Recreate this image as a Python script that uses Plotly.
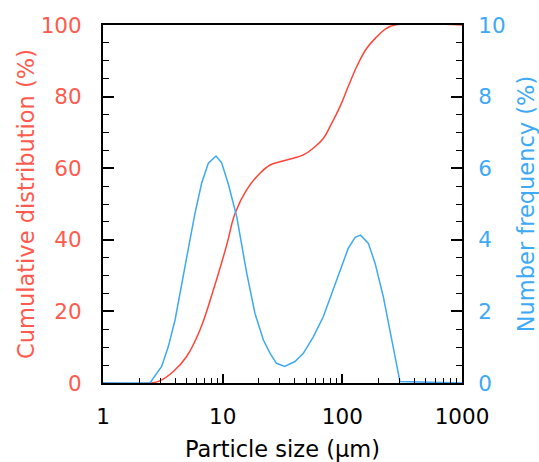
import plotly.graph_objects as go

# particle size (um) for each series
size_cum = [1, 2.47, 2.99, 3.87, 5.0, 6.46, 8.36, 10.8, 12.7, 15.8, 20.5, 24.9, 30.1, 38.9, 47.2, 57.2, 69.3,
            81.4, 95.6, 112, 132, 160, 194, 235, 275, 1000]
cumulative = [0, 0, 0.6, 3.2, 7.4, 14.8, 26, 38.5, 47.4, 53.9, 58.6, 60.9, 61.8, 62.8, 63.7, 65.6, 68.3,
              72.5, 77.2, 82.8, 88.4, 93.5, 96.7, 99.1, 100, 100]

size_num = [1, 2.47, 3.09, 3.51, 4.0, 4.69, 5.33, 5.87, 6.67, 7.59, 8.8, 9.8, 11.1, 13.1, 15.9, 18.6, 21.9, 24.9,
            28.2, 33, 40.2, 47.2, 57.2, 69.3, 84.1, 98.6, 112, 128, 142, 165, 188, 220, 258, 303, 1000]
number_freq = [0, 0, 0.46, 1.01, 1.76, 3.06, 4.0, 4.74, 5.58, 6.14, 6.34, 6.15, 5.58, 4.65, 3.06, 1.95, 1.2, 0.83,
               0.55, 0.46, 0.6, 0.83, 1.29, 1.85, 2.6, 3.25, 3.76, 4.07, 4.13, 3.9, 3.34, 2.41, 1.2, 0.04, 0]

RED = '#ff4538'
RED_TXT = '#ff5a4e'
BLUE = '#3da9f7'
FONT = 'DejaVu Sans'

fig = go.Figure()
fig.add_trace(go.Scatter(x=size_cum, y=cumulative, mode='lines',
                         line=dict(color=RED, width=1.5, shape='spline', smoothing=1.2),
                         name='Cumulative'))
fig.add_trace(go.Scatter(x=size_num, y=number_freq, mode='lines', line=dict(color=BLUE, width=1.5),
                         name='Number', yaxis='y2'))

fig.update_layout(
    width=539, height=462,
    margin=dict(l=103, r=77, t=25, b=79),
    paper_bgcolor='white', plot_bgcolor='white',
    showlegend=False,
    font=dict(family=FONT, size=21, color='black'),
    xaxis=dict(type='log', range=[0, 3], tickvals=[1, 10, 100, 1000], ticktext=['1', '10', '100', '1000'],
               ticks='inside', ticklen=9, tickwidth=1.5, tickcolor='black', ticklabelstandoff=13,
               minor=dict(ticks='inside', ticklen=5, tickwidth=1, tickcolor='black', dtick='D1', showgrid=False),
               showline=True, linecolor='black', linewidth=2, mirror=True, showgrid=False, zeroline=False,
               automargin=False, tickfont=dict(size=21.5),
               title=dict(text='Particle size (µm)', font=dict(size=22.5), standoff=14)),
    yaxis=dict(range=[0, 100], dtick=20, ticks='inside', ticklen=11, tickwidth=1.5, tickcolor='black',
               ticklabelstandoff=15,
               minor=dict(ticks='inside', ticklen=6, tickwidth=1, tickcolor='black', dtick=5, showgrid=False),
               showline=True, linecolor='black', linewidth=2, showgrid=False, zeroline=False,
               automargin=False, tickfont=dict(size=21.5, color=RED_TXT),
               title=dict(text='Cumulative distribution (%)', font=dict(size=22.5, color=RED_TXT), standoff=0)),
    yaxis2=dict(range=[0, 10], dtick=2, overlaying='y', side='right', ticks='inside', ticklen=11, tickwidth=1.5,
                tickcolor='black', ticklabelstandoff=10,
                minor=dict(ticks='inside', ticklen=6, tickwidth=1, tickcolor='black', dtick=0.5, showgrid=False),
                showline=True, linecolor='black', linewidth=2, showgrid=False, zeroline=False,
                automargin=False, tickfont=dict(size=21.5, color=BLUE),
                title=dict(text='Number frequency (%)', font=dict(size=22.5, color=BLUE), standoff=14)),
)

# page body has a default margin; drop it so the figure sits at the window's corner
fig.write_html('out.html', config={'displayModeBar': False}, post_script="document.body.style.margin='0';")
